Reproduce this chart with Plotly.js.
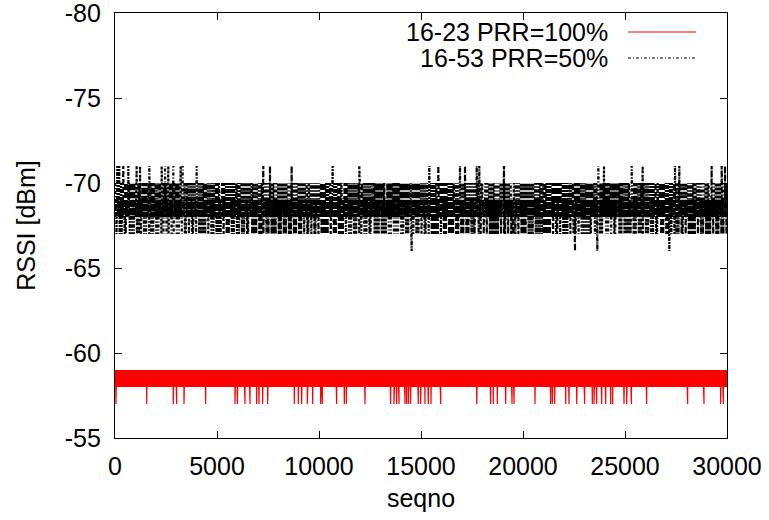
<!DOCTYPE html>
<html>
<head>
<meta charset="utf-8">
<script src="https://cdn.plot.ly/plotly-3.0.1.min.js"></script>
<style>html,body{margin:0;padding:0;background:#fff;}#chart{width:769px;height:520px;}</style>
</head>
<body>
<div id="chart"></div>
<script>
// ---- data ----
const seqnoMax = 30000;

// 16-23 link: RSSI per sampled seqno; code d means RSSI = -57 - d  (1 -> -58, 2 -> -59)
const redLevelCode = [
  "121212121212121212121212121212121212121212121212121212121212",
  "121212121212121212121212121212121212121212121212121212121212",
  "121212121212121212121212121212121212121212121212121212121212",
  "121212121212121212121212121212121212121212121212121212121212",
  "121212121212121212121212121212121212121212121212121212121212",
  "121212121212121212121212121212121212121212121212121212121212",
  "121212121212121212121212121212121212121212121212121212121212",
  "121212121212121212121212121212121212121212121212121212121212",
  "121212121212121212121212121212121212121212121212121212121212",
  "121212121212121212121212121212121212121212121212121212121212",
  "121212121212121212121212121212121212121212121212121212121212",
  "121212121212121212121212121212121212121212121212121212121212",
  "121212121212121212121212121212121212121212121212121212121212",
  "121212121212121212121212121212121212121212121212121212121212",
  "121212121212121212121212121212121212121212121212121212121212",
  "121212121212121212121212121212121212121212121212121212121212",
  "121212121212121212121212121212121212121212121212121212121212",
  "121212121212121212121212121212121212121212121212121212121212",
  "121212121212121212121212121212121212121212121212121212121212",
  "121212121212121212121212121212121212121212121212121212121212",
  "1"
].join("");
// seqnos where 16-23 rises to -57 dBm
const redDipSeqno = [49, 1552, 2860, 3023, 3382, 4444, 5882, 6000, 6373, 6617, 6944, 7059, 7239, 7484,
  8791, 8987, 9150, 9428, 9689, 10082, 10163, 10866, 11242, 11340, 12255, 13513, 13676, 13807, 13922,
  14216, 14297, 14379, 14493, 14869, 14984, 15196, 15359, 15490, 15964, 17729, 18415, 18545, 18741,
  19150, 19461, 19559, 20588, 21356, 21438, 21553, 22092, 22255, 22631, 23023, 23399, 23480, 23611,
  23856, 24052, 24297, 24395, 24951, 25082, 25311, 26062, 28073, 28873, 29690, 29820];
const redDipRssi = -57;

// 16-53 link: code d means RSSI = -66 - d (1 -> -67, 2 -> -68, 3 -> -69, 4 -> -70)
const blackLevelCode = [
  "423142324132413242314132423241423142314232413241423132423142",
  "314232413241423142324132413242314231423241324132423142314232",
  "413241324231423241314232413242314132423142324132413241423142",
  "324132423142314232413241423132423142324132413242314231423241",
  "423142324132413242314132423241423142314232413241423132423142",
  "314232413241423142324132413242314231423241324132423142314232",
  "413241324231423241314232413242314132423142324132413241423142",
  "324132423142314232413241423132423142324132413242314231423241",
  "423142324132413242314132423241423142314232413241423132423142",
  "314232413241423142324132413242314231423241324132423142314232",
  "413242314132423142324132413241423142324132423142314232413241",
  "324142324132413242314231423241324132423142314132423241423142",
  "423132423142324132413241423142314232413242314132423142324132",
  "314241324231423241324132413242314231423142324132413241423142",
  "413241423142314232413242314132423142324132413241324231423241",
  "324132423142324132413241423142314132423241324132423142314232",
  "423142314232413242314132423241423142324132413241423132423142",
  "314232413241423142324132413242314231423241314232423142314232",
  "413241324231423241324132413242314132423142324132413241423142",
  "324132423142314232413241423132423142324132413242314231423241",
  "4"
].join("");
// seqnos where 16-53 drops to -71 dBm
const blackUpSeqno = [114, 212, 408, 653, 1062, 1225, 1683, 2288, 2451, 2614, 2860, 3219, 3317, 4003,
  7271, 7598, 8660, 10670, 11977, 15408, 15850, 16912, 17157, 17729, 17859, 19069, 23693, 23971,
  25327, 25866, 27451, 27663, 29248, 29739, 29902];
const blackUpRssi = -71;
// seqnos where 16-53 rises to -66 dBm
const blackDownSeqno = [14542, 22549, 23644, 27173];
const blackDownRssi = -66;

const yTicks = [-80, -75, -70, -65, -60, -55];
const xTicks = [0, 5000, 10000, 15000, 20000, 25000, 30000];
const seriesNames = ["16-23 PRR=100%", "16-53 PRR=50%"];

// ---- build series ----
function build(code, offset, spikeGroups) {
  const n = code.length;
  const pts = [];
  for (let i = 0; i < n; i++) {
    pts.push([Math.round(i * seqnoMax / (n - 1)), offset - Number(code[i])]);
  }
  spikeGroups.forEach(g => g.seq.forEach(s => pts.push([s, g.val])));
  pts.sort((a, b) => a[0] - b[0]);
  return {x: pts.map(p => p[0]), y: pts.map(p => p[1])};
}
const red = build(redLevelCode, -57, [{seq: redDipSeqno, val: redDipRssi}]);
const black = build(blackLevelCode, -66, [{seq: blackUpSeqno, val: blackUpRssi}, {seq: blackDownSeqno, val: blackDownRssi}]);

const FONT = "Liberation Sans, Arial, Helvetica, sans-serif";
const DASH = "3px,2px,1px,2px";
const traces = [
  {x: red.x, y: red.y, type: "scatter", mode: "lines", name: seriesNames[0],
   line: {color: "#ff0000", width: 1.2}, showlegend: false, hoverinfo: "skip"},
  {x: black.x, y: black.y, type: "scatter", mode: "lines", name: seriesNames[1],
   line: {color: "#000000", width: 2.2, dash: DASH}, showlegend: false, hoverinfo: "skip"}
];

const L = 115, R = 727, T = 13, B = 438;
const px = v => (v - L) / (R - L);
const py = v => (B - v) / (B - T);

const layout = {
  width: 769, height: 520,
  margin: {l: L, r: 769 - R, t: T, b: 520 - B, pad: 0},
  paper_bgcolor: "#ffffff", plot_bgcolor: "#ffffff",
  font: {family: FONT, size: 25, color: "#000"},
  xaxis: {
    range: [0, 30000], tickvals: xTicks, ticktext: xTicks.map(String),
    ticks: "inside", ticklen: 7, tickcolor: "#000", tickwidth: 1,
    showline: true, linecolor: "#000", linewidth: 1.2, mirror: "ticks",
    showgrid: false, zeroline: false, ticklabelstandoff: 6, ticklabeloverflow: "allow",
    tickfont: {family: FONT, size: 25, color: "#000"},
    title: {text: "seqno", font: {family: FONT, size: 25, color: "#000"}, standoff: 10}
  },
  yaxis: {
    range: [-55, -80], tickvals: yTicks, ticktext: yTicks.map(String),
    ticks: "inside", ticklen: 7, tickcolor: "#000", tickwidth: 1,
    showline: true, linecolor: "#000", linewidth: 1.2, mirror: "ticks",
    showgrid: false, zeroline: false, ticklabelstandoff: 8, ticklabeloverflow: "allow",
    tickfont: {family: FONT, size: 25, color: "#000"},
    title: {text: "RSSI [dBm]", font: {family: FONT, size: 25, color: "#000"}, standoff: 22}
  },
  annotations: [
    {xref: "paper", yref: "paper", x: px(610), y: py(32), xanchor: "right", yanchor: "middle",
     text: seriesNames[0], showarrow: false, font: {family: FONT, size: 25, color: "#000"}},
    {xref: "paper", yref: "paper", x: px(610), y: py(58), xanchor: "right", yanchor: "middle",
     text: seriesNames[1], showarrow: false, font: {family: FONT, size: 25, color: "#000"}}
  ],
  shapes: [
    {type: "line", xref: "paper", yref: "paper", x0: px(628), x1: px(696), y0: py(32), y1: py(32),
     line: {color: "#ff0000", width: 1}},
    {type: "line", xref: "paper", yref: "paper", x0: px(628), x1: px(696), y0: py(58), y1: py(58),
     line: {color: "#000", width: 1, dash: DASH}}
  ]
};

Plotly.newPlot("chart", traces, layout, {staticPlot: true, displayModeBar: false});
</script>
</body>
</html>
